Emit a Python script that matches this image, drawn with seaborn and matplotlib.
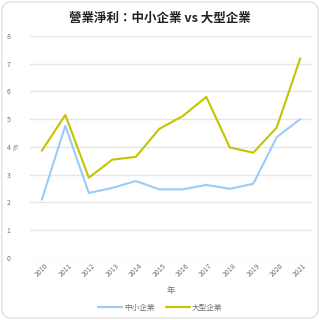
import matplotlib
matplotlib.use("Agg")
import matplotlib.pyplot as plt
import seaborn as sns
import pandas as pd
from matplotlib.patches import FancyBboxPatch
from matplotlib.lines import Line2D

years = [2010, 2011, 2012, 2013, 2014, 2015, 2016, 2017, 2018, 2019, 2020, 2021]
sme = [2.10, 4.76, 2.34, 2.52, 2.77, 2.47, 2.47, 2.63, 2.49, 2.67, 4.35, 5.00]
large = [3.86, 5.15, 2.89, 3.54, 3.64, 4.65, 5.11, 5.80, 3.98, 3.79, 4.70, 7.19]
series_names = ["中小企業", "大型企業"]
colors = ["#9dcbf5", "#c4c400"]
title = "營業淨利：中小企業 vs 大型企業"

df = pd.DataFrame({
    "年": years * 2,
    "value": sme + large,
    "series": [series_names[0]] * len(years) + [series_names[1]] * len(years),
})

sns.set_theme(style="white")
plt.rcParams["font.family"] = ["Noto Sans CJK TC", "DejaVu Sans"]

fig = plt.figure(figsize=(3.2, 3.2), dpi=100)
border = FancyBboxPatch((0.006, 0.006), 0.988, 0.988,
                        boxstyle="round,pad=0,rounding_size=0.03",
                        transform=fig.transFigure, facecolor="white",
                        edgecolor="#e2e2e2", linewidth=1.0, zorder=-10)
fig.patches.append(border)

ax = fig.add_axes([0.094, 0.194, 0.881, 0.694])
ax.set_facecolor("none")
sns.lineplot(data=df, x="年", y="value", hue="series", palette=colors,
             linewidth=1.5, ax=ax, legend=False)

ax.set_xlim(2009.5, 2021.5)
ax.set_ylim(0, 8)
ax.set_xticks(years)
ax.set_xticklabels([str(y) for y in years], rotation=45, fontsize=5, color="#707070",
                   ha="center")
ax.set_yticks(range(0, 9))
ax.tick_params(axis="y", labelsize=5, colors="#707070", length=0, pad=14)
ax.tick_params(axis="x", length=0, pad=3)
ax.grid(axis="y", color="#e6e6e6", linewidth=1.0)
ax.grid(axis="x", visible=False)
for s in ax.spines.values():
    s.set_visible(False)

ax.set_xlabel("年", fontsize=6, color="#707070", labelpad=5)
ax.set_ylabel("%", fontsize=5, color="#707070", labelpad=-10)

fig.text(0.5, 0.944, title, ha="center", va="center", fontsize=9,
         fontweight="bold", color="#222222")

handles = [Line2D([0], [0], color=c, linewidth=1.6) for c in colors]
fig.legend(handles, series_names, loc="center", bbox_to_anchor=(0.5, 0.037),
           ncol=2, frameon=False, fontsize=5.5, handlelength=3.2,
           handletextpad=0.2, columnspacing=1.5, labelcolor="#707070")

fig.savefig("out.png", dpi=100)
